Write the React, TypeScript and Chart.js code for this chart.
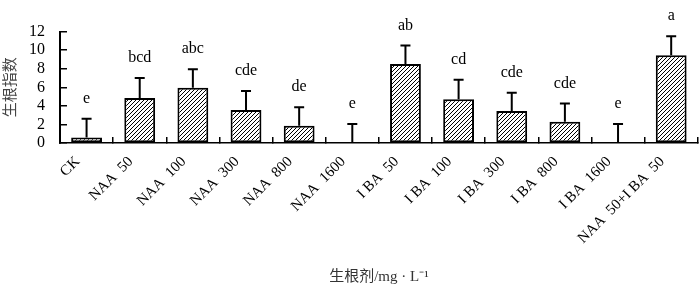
import React, { useEffect, useRef } from 'react';
import { Chart, registerables } from 'chart.js';

Chart.register(...registerables);

const categories = [
  'CK',
  'NAA  50',
  'NAA  100',
  'NAA  300',
  'NAA  800',
  'NAA  1600',
  'I BA  50',
  'I BA  100',
  'I BA  300',
  'I BA  800',
  'I BA  1600',
  'NAA  50+I BA  50',
];
const means = [0.6, 4.85, 5.95, 3.55, 1.85, 0, 8.5, 4.7, 3.45, 2.3, 0, 9.45];
const errors = [2.0, 2.15, 2.0, 2.05, 2.0, 2.05, 2.0, 2.1, 1.95, 1.95, 2.05, 2.05];
const letters = ['e', 'bcd', 'abc', 'cde', 'de', 'e', 'ab', 'cd', 'cde', 'cde', 'e', 'a'];
const yMin = 0;
const yMax = 12;
const yStep = 2;
const yTitle = '生根指数';
const xTitle = '生根剂/mg · L⁻¹';

const SERIF = '"Liberation Serif", "Noto Sans CJK SC", serif';

function makeHatch(): CanvasPattern | string {
  const c = document.createElement('canvas');
  c.width = 4;
  c.height = 4;
  const g = c.getContext('2d');
  if (!g) return '#888';
  g.fillStyle = '#fff';
  g.fillRect(0, 0, 4, 4);
  g.strokeStyle = '#000';
  g.lineWidth = 1;
  g.beginPath();
  g.moveTo(0, 4);
  g.lineTo(4, 0);
  g.moveTo(-1, 1);
  g.lineTo(1, -1);
  g.moveTo(3, 5);
  g.lineTo(5, 3);
  g.stroke();
  return g.createPattern(c, 'repeat') || '#888';
}

const errorBars = {
  id: 'errorBars',
  afterDatasetsDraw(chart: any) {
    const ctx = chart.ctx;
    const meta = chart.getDatasetMeta(0);
    const y = chart.scales.y;
    ctx.save();
    ctx.strokeStyle = '#000';
    ctx.lineWidth = 2;
    ctx.fillStyle = '#000';
    ctx.font = '16px ' + SERIF;
    ctx.textAlign = 'center';
    ctx.textBaseline = 'alphabetic';
    meta.data.forEach((bar: any, i: number) => {
      const x = bar.x;
      const y0 = y.getPixelForValue(means[i]);
      const y1 = y.getPixelForValue(means[i] + errors[i]);
      ctx.beginPath();
      ctx.moveTo(x, y0);
      ctx.lineTo(x, y1);
      ctx.moveTo(x - 5, y1);
      ctx.lineTo(x + 5, y1);
      ctx.stroke();
      ctx.fillText(letters[i], x, y1 - 16);
    });
    ctx.restore();
  },
};

export default function App() {
  const ref = useRef<HTMLCanvasElement | null>(null);
  useEffect(() => {
    document.body.style.margin = '0';
    if (!ref.current) return;
    const hatch = makeHatch();
    const chart = new Chart(ref.current, {
      type: 'bar',
      data: {
        labels: categories,
        datasets: [
          {
            data: means,
            backgroundColor: hatch as any,
            borderColor: '#000',
            borderWidth: 2,
            borderSkipped: false,
            categoryPercentage: 1,
            barPercentage: 0.58,
          },
        ],
      },
      options: {
        animation: false,
        responsive: true,
        maintainAspectRatio: false,
        layout: { padding: { left: 0, right: 2, top: 12, bottom: 0 } },
        plugins: { legend: { display: false }, tooltip: { enabled: false } },
        scales: {
          x: {
            grid: {
              drawOnChartArea: false,
              drawTicks: true,
              tickLength: -6,
              color: '#000',
              lineWidth: 1.5,
              offset: true,
            },
            border: { display: true, color: '#000', width: 1.5 },
            ticks: {
              autoSkip: false,
              maxRotation: 45,
              minRotation: 45,
              color: '#000',
              font: { family: SERIF, size: 15 },
              padding: 16,
              labelOffset: -9,
            },
            title: {
              display: true,
              text: xTitle,
              color: '#333',
              font: { family: SERIF, size: 15 },
              padding: { top: 0, bottom: 0 },
            },
            afterFit(scale: any) {
              scale.height = 143;
            },
          },
          y: {
            min: yMin,
            max: yMax,
            grid: {
              drawOnChartArea: false,
              drawTicks: true,
              tickLength: -7,
              color: '#000',
              lineWidth: 1.5,
            },
            border: { display: true, color: '#000', width: 2 },
            ticks: {
              stepSize: yStep,
              autoSkip: false,
              color: '#000',
              font: { family: SERIF, size: 16 },
              padding: 22,
            },
            title: {
              display: true,
              text: yTitle,
              color: '#444',
              font: { family: SERIF, size: 15 },
              padding: { top: 2, bottom: 0 },
            },
            afterFit(scale: any) {
              scale.width = 60;
            },
          },
        },
      },
      plugins: [errorBars],
    });
    return () => chart.destroy();
  }, []);
  return (
    <div style={{ position: 'relative', width: 700, height: 286 }}>
      <canvas ref={ref} />
    </div>
  );
}
